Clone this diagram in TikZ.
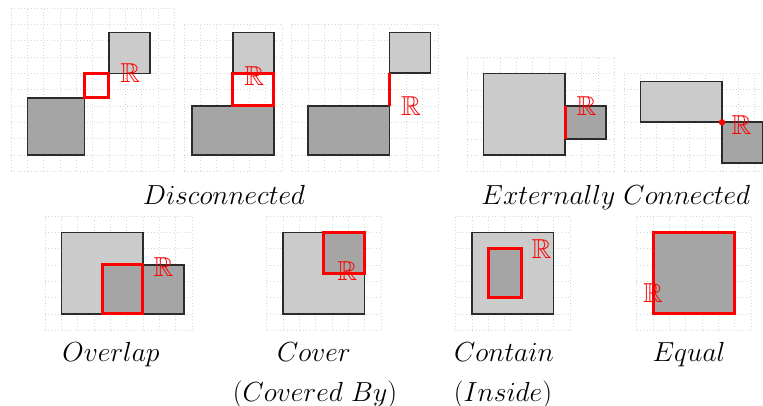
\documentclass[tikz,border=0pt]{standalone}
\usepackage{amssymb}
\definecolor{lightg}{HTML}{CBCBCB}
\definecolor{darkg}{HTML}{A5A5A5}
\definecolor{edgeg}{HTML}{2B2B2B}
\definecolor{gridg}{HTML}{D6D6D6}
\tikzset{
  cellgrid/.style={gridg, line width=0.6pt, dash pattern=on 1pt off 2.3pt, xstep=16.33pt, ystep=16.33pt},
  lightbox/.style={fill=lightg, draw=edgeg, line width=1.6pt},
  darkbox/.style={fill=darkg, draw=edgeg, line width=1.6pt},
  redbox/.style={draw=red, line width=3pt},
  reddark/.style={fill=darkg, draw=red, line width=3pt},
  realsym/.style={text=red, inner sep=0pt, scale=1.1, font=\fontsize{24.88}{30}\selectfont},
  caption/.style={anchor=base, inner sep=0pt, scale=1.108, font=\fontsize{24.88}{30}\selectfont},
  panel/.style={x=16.33pt, y=-16.33pt}
}
\begin{document}
\begin{tikzpicture}[x=1pt, y=-1pt]
\useasboundingbox (0,0) rectangle (763,406);
% Panel 1
\begin{scope}[shift={(11pt,-8pt)}, panel]
  \draw[cellgrid] (0,0) grid (10,10);
  \draw[darkbox] (1,5.5) rectangle (4.5,9);
  \draw[lightbox] (6,1.5) rectangle (8.5,4);
  \draw[redbox] (4.5,4) rectangle (6,5.5);
  \node[realsym] (r1) at (7.3,4.0) {$\mathbb{R}$};
\end{scope}
% Panel 2
\begin{scope}[shift={(184pt,-24.3pt)}, panel]
  \draw[cellgrid] (0,0) grid (6,9);
  \draw[lightbox] (3,0.5) rectangle (5.5,3);
  \draw[darkbox] (0.5,5) rectangle (5.5,8);
  \draw[redbox] (3,3) rectangle (5.5,5);
  \node[realsym] (r2) at (4.3,3.2) {$\mathbb{R}$};
\end{scope}
% Panel 3
\begin{scope}[shift={(291.7pt,-24.3pt)}, panel]
  \draw[cellgrid] (0,0) grid (9,9);
  \draw[darkbox] (1,5) rectangle (6,8);
  \draw[lightbox] (6,0.5) rectangle (8.5,3);
  \coordinate (p3a) at (6,3);
  \coordinate (p3b) at (6,5);
  \draw[redbox] (p3a) -- (p3b);
  \node[realsym] (r3) at (7.3,5.0) {$\mathbb{R}$};
\end{scope}
% Panel 4
\begin{scope}[shift={(467.3pt,-57.3pt)}, panel]
  \draw[cellgrid] (0,0) grid (9,7);
  \draw[lightbox] (1,1) rectangle (6,6);
  \draw[darkbox] (6,3) rectangle (8.5,5);
  \coordinate (p4a) at (6,3);
  \coordinate (p4b) at (6,5);
  \draw[redbox] (p4a) -- (p4b);
  \node[realsym] (r4) at (7.3,3.0) {$\mathbb{R}$};
\end{scope}
% Panel 5
\begin{scope}[shift={(624pt,-73.3pt)}, panel]
  \draw[cellgrid] (0,0) grid (9,6);
  \draw[lightbox] (1,0.5) rectangle (6,3);
  \draw[darkbox] (6,3) rectangle (8.5,5.5);
  \coordinate (p5) at (6,3);
  \fill[red] (p5) circle (3.2pt);
  \node[realsym] (r5) at (7.2,3.2) {$\mathbb{R}$};
\end{scope}
% Panel 6
\begin{scope}[shift={(45pt,-216pt)}, panel]
  \draw[cellgrid] (0,0) grid (9,7);
  \draw[lightbox] (1,1) rectangle (6,6);
  \draw[darkbox] (3.5,3) rectangle (8.5,6);
  \draw[redbox] (3.5,3) rectangle (6,6);
  \node[realsym] (r6) at (7.25,3.1) {$\mathbb{R}$};
\end{scope}
% Panel 7
\begin{scope}[shift={(266.7pt,-216pt)}, panel]
  \draw[cellgrid] (0,0) grid (7,7);
  \draw[lightbox] (1,1) rectangle (6,6);
  \draw[reddark] (3.5,1) rectangle (6,3.5);
  \node[realsym] (r7) at (4.94,3.4) {$\mathbb{R}$};
\end{scope}
% Panel 8
\begin{scope}[shift={(455.7pt,-216pt)}, panel]
  \draw[cellgrid] (0,0) grid (7,7);
  \draw[lightbox] (1,1) rectangle (6,6);
  \draw[reddark] (2,2) rectangle (4,5);
  \node[realsym] (r8) at (5.26,2.04) {$\mathbb{R}$};
\end{scope}
% Panel 9
\begin{scope}[shift={(636.7pt,-216pt)}, panel]
  \draw[cellgrid] (0,0) grid (7,7);
  \draw[reddark] (1,1) rectangle (6,6);
  \node[realsym] (r9) at (1.0,4.73) {$\mathbb{R}$};
\end{scope}
% Captions
\node[caption] (c1) at (224,204.3) {$Disconnected$};
\node[caption] (c2) at (616,204.3) {$Externally\ Connected$};
\node[caption] (c3) at (111,361.7) {$Overlap$};
\node[caption] (c4) at (314,361.7) {$Cover$};
\node[caption] (c4b) at (315,401.7) {$(Covered\ By)$};
\node[caption] (c5) at (504,361.7) {$Contain$};
\node[caption] (c5b) at (503,401.7) {$(Inside)$};
\node[caption] (c6) at (689,361.7) {$Equal$};
\end{tikzpicture}
\end{document}
